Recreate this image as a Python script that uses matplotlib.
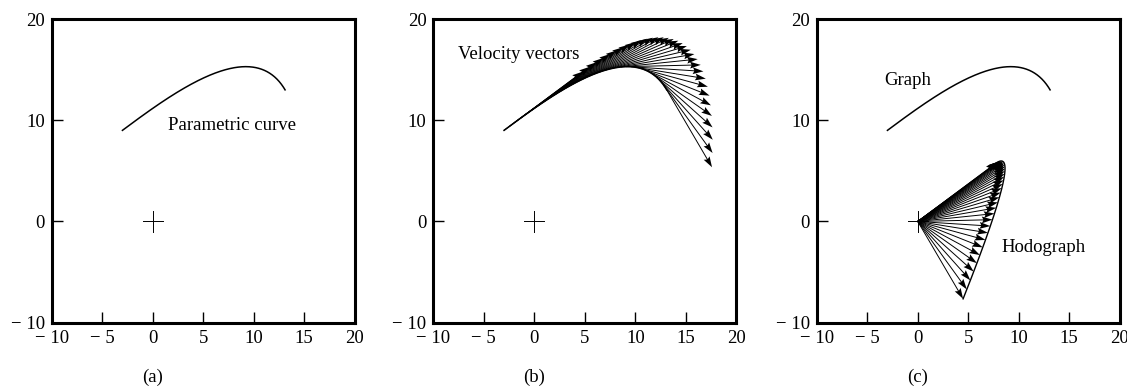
import numpy as np
import matplotlib
matplotlib.use("Agg")
import matplotlib.pyplot as plt
import matplotlib.transforms as mtransforms

# Control points of the cubic Bezier parametric curve
ctrl_x = [-3.0, 2.51, 9.93, 13.1]
ctrl_y = [9.0, 13.1, 18.4, 13.0]
# Drawing scale applied to the velocity vectors
vec_scale = 0.472
n_vectors = 33

xticks = [-10, -5, 0, 5, 10, 15, 20]
xtick_labels = ["\u2212 10", "\u2212 5", "0", "5", "10", "15", "20"]
yticks = [-10, 0, 10, 20]
ytick_labels = ["\u2212 10", "0", "10", "20"]
captions = ["(a)", "(b)", "(c)"]

plt.rcParams["font.family"] = ["Liberation Serif", "DejaVu Serif"]
FS = 13.5
plt.rcParams["font.size"] = FS


def bezier(ctrl, t):
    c = np.asarray(ctrl, dtype=float)
    return ((1 - t) ** 3 * c[0] + 3 * t * (1 - t) ** 2 * c[1]
            + 3 * t ** 2 * (1 - t) * c[2] + t ** 3 * c[3])


def bezier_deriv(ctrl, t):
    c = np.asarray(ctrl, dtype=float)
    d = np.diff(c) * 3
    return (1 - t) ** 2 * d[0] + 2 * t * (1 - t) * d[1] + t ** 2 * d[2]


t_fine = np.linspace(0, 1, 300)
cx, cy = bezier(ctrl_x, t_fine), bezier(ctrl_y, t_fine)
t_vec = np.linspace(0, 1, n_vectors)
px, py = bezier(ctrl_x, t_vec), bezier(ctrl_y, t_vec)
vx = vec_scale * bezier_deriv(ctrl_x, t_vec)
vy = vec_scale * bezier_deriv(ctrl_y, t_vec)
hx = vec_scale * bezier_deriv(ctrl_x, t_fine)
hy = vec_scale * bezier_deriv(ctrl_y, t_fine)

fig = plt.figure(figsize=(11.27, 3.91), dpi=100)
lefts = [0.0459, 0.3845, 0.7247]
axes = [fig.add_axes([l, 0.1747, 0.2689, 0.7767]) for l in lefts]

quiver_kw = dict(angles="xy", scale_units="xy", scale=1, color="black",
                 width=0.0032, headwidth=7, headlength=11, headaxislength=9.5)

for ax, cap in zip(axes, captions):
    ax.set_xlim(-10, 20)
    ax.set_ylim(-10, 20)
    ax.set_xticks(xticks)
    ax.set_xticklabels(xtick_labels)
    ax.set_yticks(yticks)
    ax.set_yticklabels(ytick_labels)
    ax.tick_params(direction="in", length=8, width=1, pad=5, labelsize=FS)
    ax.tick_params(axis="x", pad=5)
    for sp in ax.spines.values():
        sp.set_linewidth(2.2)
    # origin cross
    ax.plot([-1, 1], [0, 0], color="black", lw=0.7)
    ax.plot([0, 0], [-1, 1], color="black", lw=0.7)
    trans = mtransforms.blended_transform_factory(ax.transData, ax.transAxes)
    ax.text(0, -0.179, cap, transform=trans, ha="center", va="center",
            fontsize=FS)

# (a) parametric curve
ax = axes[0]
ax.plot(cx, cy, color="black", lw=1.1)
ax.text(1.5, 9.5, "Parametric curve", ha="left", va="center", fontsize=FS)

# (b) velocity vectors along the curve
ax = axes[1]
ax.plot(cx, cy, color="black", lw=1.1)
ax.quiver(px, py, vx, vy, **quiver_kw)
ax.text(-7.6, 16.45, "Velocity vectors", ha="left", va="center", fontsize=FS)

# (c) curve and hodograph
ax = axes[2]
ax.plot(cx, cy, color="black", lw=1.1)
ax.plot(hx, hy, color="black", lw=1.0)
ax.quiver(np.zeros_like(vx), np.zeros_like(vy), vx, vy, **quiver_kw)
ax.text(-3.35, 13.9, "Graph", ha="left", va="center", fontsize=FS)
ax.text(8.3, -2.6, "Hodograph", ha="left", va="center", fontsize=FS)

fig.savefig("out.png", dpi=100)
